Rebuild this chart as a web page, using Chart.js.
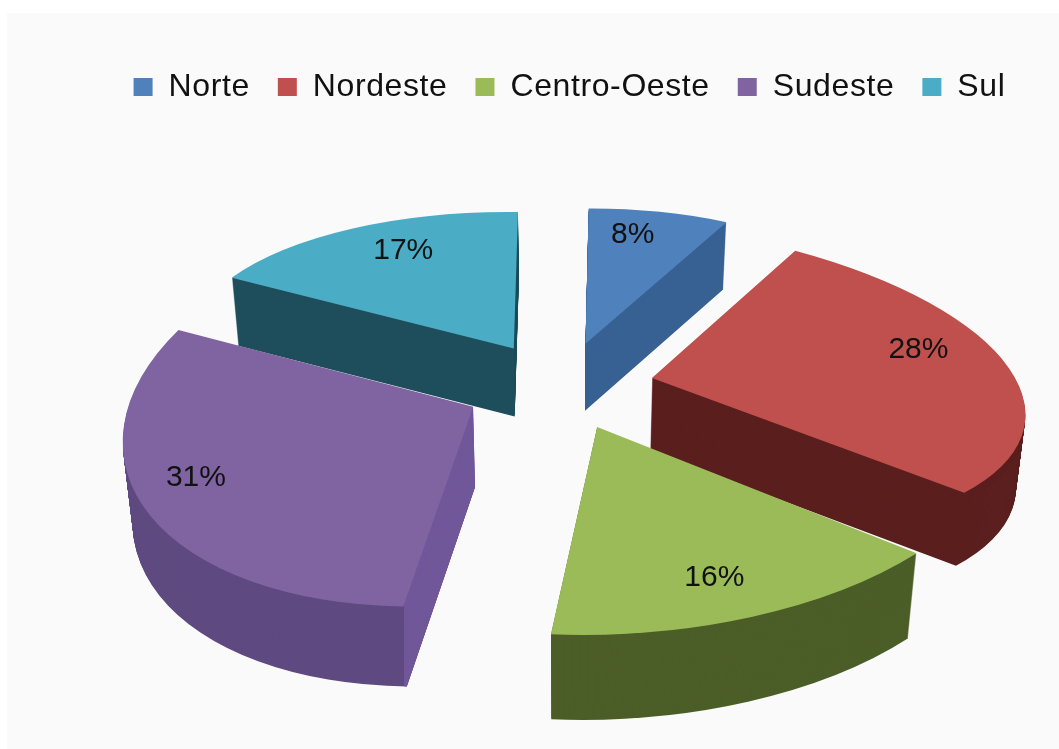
<!DOCTYPE html>
<html>
<head>
<meta charset="utf-8">
<style>
  html, body { margin: 0; padding: 0; background: #fff; }
  #wrap { width: 1059px; height: 749px; }
</style>
</head>
<body>
<div id="wrap"><canvas id="pie"></canvas></div>
<script src="https://cdn.jsdelivr.net/npm/chart.js@4"></script>
<script>
const categories = ['Norte', 'Nordeste', 'Centro-Oeste', 'Sudeste', 'Sul'];
const shares = [8, 28, 16, 31, 17];

// colours of the top faces and of the walls below them
const topColors = ['#4f81bd', '#c0504d', '#9bbb59', '#8064a2', '#4bacc6'];
const wallColors = ['#386193', '#5a1f1e', '#4c5e28', '#5f4a80', '#1f4e5c'];
const sideColors = [null, null, null, '#71589a', null];

// explosion of each slice (the arc element moves by a quarter of this),
// and where its label sits: fraction of the radius, degrees off the mid angle
const explode = [272, 256, 256, 272, 272];
const labelAt = [0.80, 0.79, 0.80, 0.80, 0.78];
const labelTurn = [-3, -2, 2, -2, 3];

// back to front, so nearer slices cover the walls of the ones behind
const drawOrder = [0, 4, 1, 3, 2];

// fake 3D view: screen centre, half width, half height, perspective, depth, wall lean
const view = { cx: 562, cy: 386, a: 360, b: 166, k: 0.144, depth: 75, lean: 0.00028 };

function project(el, px, py) {
    const x = (px - el.x) / el.outerRadius;
    const y = (py - el.y) / el.outerRadius;
    const w = 1 / (1 - view.k * y);
    return { x: view.cx + view.a * x * w, y: view.cy + view.b * y * w, w: w };
}

// affine map that puts the slice's apex and two rim ends on their projected spots
function sliceFrame(el, offset) {
    const mid = (el.startAngle + el.endAngle) / 2;
    const R = el.outerRadius;
    const shift = offset / 4;
    // the arc element also grows its radius a little when it is offset
    const drawnR = R + shift * (1 - Math.sin(Math.min(Math.PI, el.circumference)));
    const cosA = Math.cos(el.startAngle), sinA = Math.sin(el.startAngle);
    const cosB = Math.cos(el.endAngle), sinB = Math.sin(el.endAngle);
    const p0 = { x: el.x + Math.cos(mid) * shift, y: el.y + Math.sin(mid) * shift };
    const q0 = project(el, p0.x, p0.y);
    const q1 = project(el, p0.x + cosA * R, p0.y + sinA * R);
    const q2 = project(el, p0.x + cosB * R, p0.y + sinB * R);
    const ux = cosA * drawnR, uy = sinA * drawnR, vx = cosB * drawnR, vy = sinB * drawnR;
    const det = ux * vy - vx * uy;
    const qux = q1.x - q0.x, quy = q1.y - q0.y, qvx = q2.x - q0.x, qvy = q2.y - q0.y;
    const a = (qux * vy - qvx * uy) / det;
    const c = (qvx * ux - qux * vx) / det;
    const b = (quy * vy - qvy * uy) / det;
    const d = (qvy * ux - quy * vx) / det;
    return {
        m: [a, b, c, d, q0.x - a * p0.x - c * p0.y, q0.y - b * p0.x - d * p0.y],
        q1: q1,
        p0: p0,
        mid: mid
    };
}

const pie3d = {
    id: 'pie3d',
    beforeLayout(chart) {
        chart.ctx.letterSpacing = '0.6px';
    },
    beforeDraw(chart) {
        const ctx = chart.ctx;
        ctx.letterSpacing = '0.6px';
        ctx.save();
        ctx.fillStyle = '#fafafa';
        ctx.fillRect(7, 13, chart.width - 7, chart.height - 13);
        ctx.restore();
    },
    beforeDatasetDraw() {
        return false;
    },
    afterDatasetsDraw(chart) {
        const ctx = chart.ctx;
        const arcs = chart.getDatasetMeta(0).data;

        drawOrder.forEach(function(i) {
            const el = arcs[i];
            const opts = el.options;
            const frame = sliceFrame(el, opts.offset);
            const depth = Math.round(view.depth * project(el, frame.p0.x + Math.cos(frame.mid) * el.outerRadius * 0.6, frame.p0.y + Math.sin(frame.mid) * el.outerRadius * 0.6).w);

            const stamp = function(shift, color) {
                ctx.save();
                ctx.translate(view.cx, shift);
                ctx.scale(1 - shift * view.lean, 1);
                ctx.translate(-view.cx, 0);
                ctx.transform.apply(ctx, frame.m);
                el.options = Object.assign({}, opts, { backgroundColor: color });
                el.draw(ctx);
                ctx.restore();
            };

            for (let t = depth; t > 0; t--) {
                stamp(t, wallColors[i]);
            }
            if (sideColors[i]) {
                ctx.save();
                ctx.beginPath();
                ctx.rect(frame.q1.x, 0, chart.width, chart.height);
                ctx.clip();
                for (let t = depth; t > 0; t--) {
                    stamp(t, sideColors[i]);
                }
                ctx.restore();
            }
            stamp(0, topColors[i]);
            el.options = opts;
        });

        // percent labels on the top faces
        ctx.save();
        ctx.font = '30px "Liberation Sans", sans-serif';
        ctx.letterSpacing = '0px';
        ctx.textAlign = 'center';
        ctx.textBaseline = 'middle';
        ctx.fillStyle = '#111';
        arcs.forEach(function(el, i) {
            const frame = sliceFrame(el, el.options.offset);
            const r = el.outerRadius * labelAt[i];
            const angle = frame.mid + labelTurn[i] * Math.PI / 180;
            const pt = project(el, frame.p0.x + Math.cos(angle) * r, frame.p0.y + Math.sin(angle) * r);
            ctx.fillText(shares[i] + '%', pt.x, pt.y);
        });
        ctx.restore();
    }
};

new Chart(document.getElementById('pie').getContext('2d'), {
    type: 'pie',
    data: {
        labels: categories,
        datasets: [{
            data: shares,
            backgroundColor: topColors,
            borderWidth: 0,
            offset: explode
        }]
    },
    options: {
        responsive: true,
        maintainAspectRatio: false,
        animation: false,
        radius: 250,
        layout: { padding: { left: 80, top: 43 } },
        plugins: {
            tooltip: { enabled: false },
            legend: {
                position: 'top',
                labels: {
                    boxWidth: 19,
                    boxHeight: 18,
                    padding: 28,
                    color: '#111',
                    font: { family: '"Liberation Sans", sans-serif', size: 32 }
                }
            }
        }
    },
    plugins: [pie3d]
});
</script>
</body>
</html>
